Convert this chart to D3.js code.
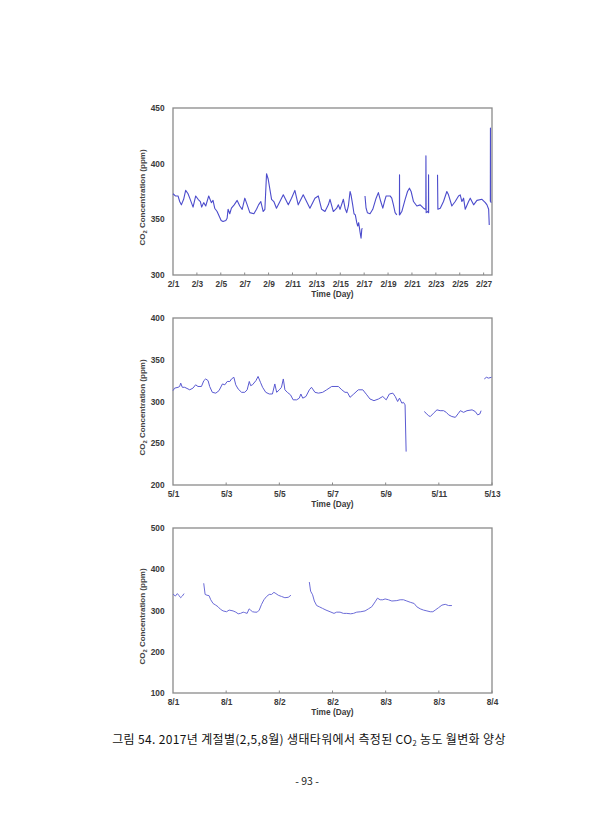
<!DOCTYPE html>
<html><head><meta charset="utf-8">
<script src="https://cdn.jsdelivr.net/npm/d3@7"></script>
<style>
body{margin:0;background:#fff;}
svg{display:block;}
</style></head><body>
<script>
// ---- Panel 1: February (days since 2/1), null = gap
const febDay = [0,0.20,0.42,0.56,0.70,0.89,1.06,1.26,1.40,1.54,1.68,1.90,2.10,2.29,2.40,2.57,2.74,2.99,3.21,3.35,3.49,3.69,3.86,4.03,4.19,4.42,4.53,4.61,4.75,4.89,5.12,5.37,5.59,5.79,6.01,6.21,6.43,6.77,6.99,7.16,7.35,7.55,7.69,7.83,7.97,8.25,8.44,8.66,8.95,9.23,9.65,9.92,10.20,10.48,10.90,11.46,11.88,12.16,12.44,12.72,13.00,13.14,13.42,13.70,13.84,13.98,14.26,14.40,14.54,14.68,14.82,14.90,15.04,15.15,15.26,15.38,15.46,15.54,15.65,15.74,15.80,15.85,
 null,
 16.07,16.16,16.27,16.49,16.72,17.00,17.19,17.39,17.56,17.70,17.84,18.17,18.31,18.45,18.59,18.73,
 null,
 18.95,18.96,18.97,19.15,19.43,19.63,19.79,19.93,20.13,20.41,20.69,20.97,21.11,21.16,21.17,21.19,21.33,21.38,21.39,21.40,
 null,
 22.14,22.17,22.37,22.64,22.92,23.06,23.34,23.62,23.90,24.04,24.18,24.32,24.46,24.74,24.88,25.16,25.44,25.86,26.14,26.28,26.42,26.47,
 null,
 26.56,26.57,26.58,26.64];
const febCO2 = [373,371,371,366,363,368,376,373,369,365,361,371,368,366,361,365,362,371,365,367,360,357,353,349,348,349,351,359,355,360,363,367,362,359,369,363,356,355,359,363,366,357,359,391,386,368,366,360,366,372,363,369,376,363,372,360,369,371,359,357,363,368,357,360,363,359,368,360,356,362,375,372,363,355,354,347,344,347,339,333,341,342,
 null,
 371,360,356,355,359,369,374,366,360,366,371,371,369,363,356,354,
 null,
 354,390,354,357,368,375,378,375,366,362,363,360,359,359,407,356,357,356,390,356,
 null,
 390,359,360,366,375,372,362,366,371,372,366,369,359,366,369,363,367,368,365,363,359,345,
 null,
 366,432,366,365];
const febTicks = ["2/1","2/3","2/5","2/7","2/9","2/11","2/13","2/15","2/17","2/19","2/21","2/23","2/25","2/27"];

// ---- Panel 2: May (days since 5/1)
const mayDay = [0,0.06,0.19,0.25,0.29,0.35,0.44,0.63,0.75,0.85,0.94,1.07,1.16,1.23,1.32,1.38,1.48,1.61,1.73,1.86,1.95,2.04,2.14,2.20,2.29,2.36,2.45,2.58,2.70,2.79,2.87,2.92,2.99,3.12,3.20,3.29,3.37,3.49,3.62,3.74,3.83,3.90,4.00,4.08,4.15,4.21,4.30,4.42,4.52,4.65,4.75,4.81,4.88,5.00,5.13,5.21,5.34,5.47,5.63,5.78,5.97,6.22,6.35,6.47,6.56,6.66,6.80,6.97,7.14,7.29,7.41,7.56,7.73,7.89,8.02,8.14,8.27,8.36,8.45,8.52,8.61,8.67,8.73,8.77,
 null,
 9.45,9.52,9.61,9.68,9.80,9.93,10.05,10.18,10.28,10.37,10.49,10.62,10.74,10.81,10.87,10.93,11.06,11.25,11.37,11.46,11.54,11.59,
 null,
 11.71,11.79,11.87,11.98];
const mayCO2 = [313,316,317,318,322,317,317,314,316,320,318,318,325,327,325,318,311,310,313,321,320,324,324,327,329,320,315,311,311,314,324,319,320,325,330,323,317,311,309,309,321,311,314,317,327,314,311,308,302,302,304,309,304,306,314,317,311,310,311,314,318,318,314,311,311,305,309,314,314,308,303,301,303,306,302,309,310,306,300,304,298,299,296,240,
 null,
 288,286,283,282,286,290,289,289,287,284,282,281,286,289,288,287,289,290,288,284,285,289,
 null,
 327,329,328,329];
const mayTicks = ["5/1","5/3","5/5","5/7","5/9","5/11","5/13"];

// ---- Panel 3: August (days since 8/1)
const augDay = [0,0.022,0.041,0.057,0.072,0.088,0.104,
 null,
 0.289,0.302,0.320,0.339,0.355,0.377,0.402,0.424,0.446,0.471,0.503,0.528,0.565,0.591,0.613,0.635,0.660,0.675,0.697,0.716,0.729,0.748,0.770,0.792,0.811,0.833,0.855,0.880,0.905,0.927,0.949,0.968,0.990,1.021,1.052,1.084,1.109,
 null,
 1.282,1.294,1.313,1.329,1.351,1.376,1.407,1.439,1.477,1.514,1.539,1.571,1.602,1.634,1.671,1.697,1.728,1.766,1.806,1.838,1.869,1.901,1.923,1.948,1.973,1.995,2.026,2.058,2.105,2.136,2.168,2.199,2.231,2.268,2.293,2.325,2.356,2.388,2.419,2.444,2.466,2.498,2.529,2.560,2.592,2.623];
const augCO2 = [340,335,341,336,331,335,341,
 null,
 366,339,337,336,326,317,313,309,303,299,297,301,299,296,292,293,296,295,293,304,301,297,296,296,301,315,326,334,339,339,344,341,337,334,331,332,337,
 null,
 369,347,338,323,312,309,305,301,297,293,296,296,293,293,292,293,296,297,299,304,309,321,330,326,326,328,326,323,324,326,326,323,320,317,309,304,301,299,297,297,301,307,313,315,312,312];
const augTicks = ["8/1","8/1","8/2","8/2","8/3","8/3","8/4"];

const W = 614, H = 840;
const svg = d3.select("body").append("svg").attr("width", W).attr("height", H);

const panels = [
  {day: febDay, co2: febCO2, ticks: febTicks, tickStep: 2, xMax: 26.7, yDom: [300,450], yTicks: [300,350,400,450], top: 108, bottom: 275, lw: 1.1, col: "#4c4ccc"},
  {day: mayDay, co2: mayCO2, ticks: mayTicks, tickStep: 2, xMax: 12, yDom: [200,400], yTicks: [200,250,300,350,400], top: 318, bottom: 485, lw: 1.0, col: "#5a5ad2"},
  {day: augDay, co2: augCO2, ticks: augTicks, tickStep: 0.5, xMax: 3, yDom: [100,500], yTicks: [100,200,300,400,500], top: 528, bottom: 693, lw: 1.0, col: "#6c6cd8"}
];
const left = 173, right = 492;
const font = "'Liberation Sans', Arial, sans-serif";

panels.forEach(p => {
  const x = d3.scaleLinear().domain([0, p.xMax]).range([left, right]);
  const y = d3.scaleLinear().domain(p.yDom).range([p.bottom, p.top]);
  const g = svg.append("g");

  // frame
  g.append("rect").attr("x", left).attr("y", p.top).attr("width", right-left).attr("height", p.bottom-p.top)
    .attr("fill", "none").attr("stroke", "#8a8a8a").attr("stroke-width", 1.3);

  // x axis
  const xt = p.ticks.map((t,i) => i * p.tickStep);
  const xAxis = d3.axisBottom(x).tickValues(xt).tickSize(0).tickPadding(6)
    .tickFormat((d,i) => p.ticks[i]);
  const gx = g.append("g").attr("transform", `translate(0,${p.bottom})`).call(xAxis);
  gx.select(".domain").remove();
  gx.selectAll("text").attr("font-family", font).attr("font-weight", "bold").attr("font-size", 8.3).attr("fill", "#3a3a3a");
  g.selectAll(".xtk").data(xt.slice(1)).enter().append("line")
    .attr("x1", d => x(d)).attr("x2", d => x(d)).attr("y1", p.bottom).attr("y2", p.bottom-2.5)
    .attr("stroke", "#8a8a8a").attr("stroke-width", 1);

  // y axis
  const yAxis = d3.axisLeft(y).tickValues(p.yTicks).tickSize(0).tickPadding(8.5);
  const gy = g.append("g").attr("transform", `translate(${left},0)`).call(yAxis);
  gy.select(".domain").remove();
  gy.selectAll("text").attr("font-family", font).attr("font-weight", "bold").attr("font-size", 8.3).attr("fill", "#3a3a3a");

  // axis titles
  g.append("text").attr("x", (left+right)/2).attr("y", p.bottom + 22)
    .attr("text-anchor", "middle").attr("font-family", font).attr("font-weight", "bold")
    .attr("font-size", 8.3).attr("fill", "#3a3a3a").text("Time (Day)");
  const yt = g.append("text").attr("transform", `translate(145,${(p.top+p.bottom)/2 + 6}) rotate(-90)`)
    .attr("text-anchor", "middle").attr("font-family", font).attr("font-weight", "bold")
    .attr("font-size", 8).attr("fill", "#444");
  yt.append("tspan").text("CO");
  yt.append("tspan").attr("font-size", 5.8).attr("dy", 2).text("2");
  yt.append("tspan").attr("dy", -2).text(" Concentration (ppm)");

  // line
  const data = p.day.map((d,i) => ({d: d, v: p.co2[i]}));
  const line = d3.line().defined(e => e.d != null && e.v != null).x(e => x(e.d)).y(e => y(e.v));
  g.append("path").datum(data).attr("d", line).attr("fill", "none")
    .attr("stroke", p.col).attr("stroke-width", p.lw).attr("stroke-linejoin", "round");
});

// caption
const cap = svg.append("text").attr("x", 309).attr("y", 744).attr("text-anchor", "middle")
  .attr("font-family", "'Noto Sans CJK KR', sans-serif").attr("font-size", 12).attr("letter-spacing", 0.35).attr("fill", "#111");
cap.append("tspan").text("그림 54. 2017년 계절별(2,5,8월) 생태타워에서 측정된 CO");
cap.append("tspan").attr("font-size", 7.5).attr("dy", 2).text("2");
cap.append("tspan").attr("dy", -2).text(" 농도 월변화 양상");

svg.append("text").attr("x", 307).attr("y", 785).attr("text-anchor", "middle")
  .attr("font-family", "'Noto Sans CJK KR', sans-serif").attr("font-size", 10.5).attr("fill", "#222").text("- 93 -");
</script>
</body></html>
